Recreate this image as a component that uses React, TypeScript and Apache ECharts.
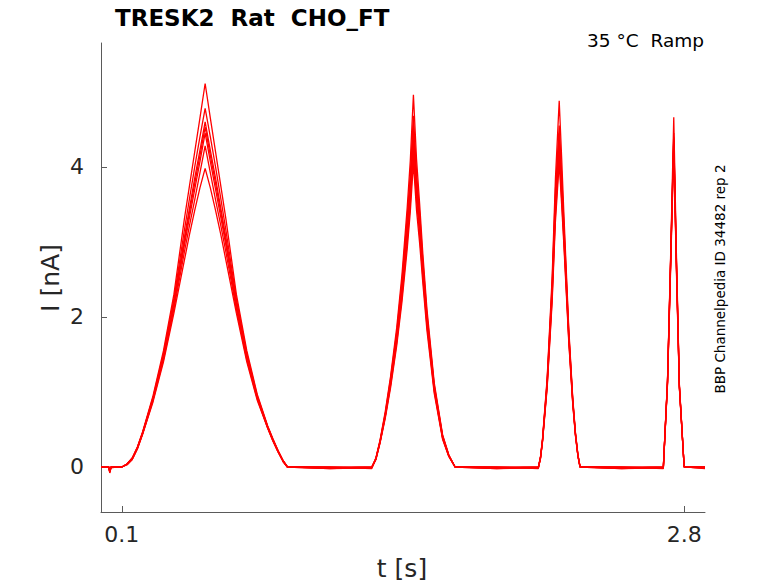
import React, { useEffect, useRef } from "react";
import * as echarts from "echarts";

// shared time axis (s)
const T = [
  0, 0.037, 0.042, 0.048, 0.1,
  0.125, 0.15, 0.175, 0.2, 0.25, 0.3, 0.35, 0.4, 0.425, 0.45, 0.475, 0.5,
  0.525, 0.55, 0.575, 0.6, 0.65, 0.7, 0.75, 0.8, 0.825, 0.85, 0.875, 0.895,
  1.1, 1.3,
  1.32, 1.34, 1.365, 1.39, 1.42, 1.445, 1.47, 1.485, 1.5,
  1.515, 1.53, 1.545, 1.565, 1.6, 1.64, 1.67, 1.7,
  1.9, 2.1,
  2.11, 2.12, 2.142, 2.166, 2.182, 2.2,
  2.212, 2.222, 2.246, 2.265, 2.278, 2.29, 2.3,
  2.5, 2.7,
  2.72, 2.736, 2.75,
  2.762, 2.777, 2.8,
  2.9,
];

// currents (nA), one array per sweep
const sweep1 = [
  0, 0, -0.08, -0.01, 0,
  0.04, 0.12, 0.27, 0.47, 0.95, 1.55, 2.3, 3.3, 3.75, 4.2, 4.65, 5.11,
  4.65, 4.2, 3.75, 3.3, 2.3, 1.55, 0.97, 0.55, 0.38, 0.22, 0.08, 0,
  -0.01, 0,
  0.12, 0.36, 0.74, 1.2, 1.86, 2.56, 3.45, 4.08, 4.96,
  4.1, 3.5, 2.85, 2.1, 1.12, 0.43, 0.16, 0,
  -0.01, 0,
  0.13, 0.38, 1.18, 2.52, 3.85, 4.88,
  4.1, 3.4, 1.84, 0.92, 0.46, 0.16, 0,
  -0.01, 0,
  1.16, 2.93, 4.66,
  2.93, 1.1, 0,
  0,
];
const sweep2 = [
  0, 0, -0.07, -0.01, 0,
  0.04, 0.12, 0.26, 0.46, 0.93, 1.51, 2.24, 3.15, 3.58, 4.0, 4.4, 4.78,
  4.4, 4.0, 3.58, 3.15, 2.24, 1.51, 0.95, 0.54, 0.37, 0.22, 0.08, 0,
  0, -0.01,
  0.12, 0.35, 0.72, 1.17, 1.8, 2.48, 3.33, 3.9, 4.68,
  3.92, 3.38, 2.76, 2.04, 1.09, 0.42, 0.16, 0,
  0, -0.01,
  0.13, 0.37, 1.15, 2.44, 3.7, 4.55,
  3.88, 3.28, 1.8, 0.9, 0.45, 0.16, 0,
  0, -0.01,
  1.15, 2.88, 4.45,
  2.85, 1.09, 0,
  -0.01,
];
const sweep3 = [
  0, 0, -0.07, 0, 0,
  0.04, 0.11, 0.26, 0.46, 0.92, 1.48, 2.2, 3.05, 3.45, 3.85, 4.22, 4.6,
  4.22, 3.85, 3.45, 3.05, 2.2, 1.48, 0.94, 0.54, 0.37, 0.21, 0.08, 0,
  -0.02, 0,
  0.11, 0.34, 0.7, 1.14, 1.76, 2.42, 3.24, 3.78, 4.55,
  3.82, 3.3, 2.7, 2.0, 1.07, 0.41, 0.15, 0,
  -0.02, 0,
  0.12, 0.36, 1.13, 2.39, 3.6, 4.45,
  3.8, 3.22, 1.77, 0.89, 0.44, 0.15, 0,
  -0.02, 0,
  1.14, 2.86, 4.4,
  2.83, 1.08, 0,
  -0.01,
];
const sweep4 = [
  0, 0, -0.06, 0, 0,
  0.04, 0.11, 0.26, 0.45, 0.91, 1.47, 2.17, 3.0, 3.4, 3.78, 4.15, 4.53,
  4.15, 3.78, 3.4, 3.0, 2.17, 1.47, 0.93, 0.53, 0.36, 0.21, 0.08, 0,
  -0.01, -0.01,
  0.11, 0.34, 0.69, 1.12, 1.73, 2.37, 3.16, 3.68, 4.45,
  3.73, 3.23, 2.65, 1.96, 1.05, 0.4, 0.15, 0,
  -0.01, -0.01,
  0.12, 0.36, 1.11, 2.35, 3.52, 4.35,
  3.72, 3.16, 1.75, 0.88, 0.44, 0.15, 0,
  -0.01, -0.01,
  1.14, 2.85, 4.38,
  2.8, 1.07, 0,
  0,
];
const sweep5 = [
  0, 0, -0.06, 0, 0,
  0.04, 0.11, 0.25, 0.45, 0.9, 1.45, 2.14, 2.95, 3.33, 3.7, 4.07, 4.45,
  4.07, 3.7, 3.33, 2.95, 2.14, 1.45, 0.92, 0.53, 0.36, 0.21, 0.07, 0,
  0, -0.02,
  0.11, 0.33, 0.68, 1.1, 1.7, 2.32, 3.08, 3.6, 4.35,
  3.65, 3.16, 2.6, 1.92, 1.03, 0.39, 0.15, 0,
  0, -0.02,
  0.12, 0.35, 1.09, 2.3, 3.44, 4.25,
  3.64, 3.1, 1.72, 0.87, 0.43, 0.15, 0,
  0, -0.02,
  1.13, 2.83, 4.35,
  2.78, 1.07, 0,
  -0.02,
];
const sweep6 = [
  0, 0, -0.05, 0, 0,
  0.03, 0.1, 0.25, 0.44, 0.89, 1.43, 2.1, 2.86, 3.22, 3.56, 3.92, 4.28,
  3.92, 3.56, 3.22, 2.86, 2.1, 1.43, 0.91, 0.52, 0.35, 0.2, 0.07, 0,
  -0.01, 0,
  0.1, 0.33, 0.67, 1.08, 1.66, 2.26, 2.99, 3.5, 4.2,
  3.55, 3.08, 2.54, 1.88, 1.01, 0.38, 0.14, 0,
  -0.01, 0,
  0.11, 0.35, 1.07, 2.25, 3.36, 4.15,
  3.56, 3.04, 1.69, 0.85, 0.42, 0.14, 0,
  -0.01, 0,
  1.12, 2.8, 4.3,
  2.75, 1.06, 0,
  0,
];
const sweep7 = [
  0, 0, -0.05, 0, 0,
  0.03, 0.1, 0.24, 0.44, 0.87, 1.4, 2.05, 2.75, 3.1, 3.42, 3.72, 3.98,
  3.72, 3.42, 3.1, 2.75, 2.05, 1.4, 0.89, 0.52, 0.35, 0.2, 0.07, 0,
  -0.02, -0.01,
  0.1, 0.32, 0.65, 1.05, 1.62, 2.2, 2.9, 3.4, 4.05,
  3.42, 2.98, 2.46, 1.82, 0.98, 0.37, 0.14, 0,
  -0.02, -0.01,
  0.11, 0.34, 1.05, 2.2, 3.28, 4.05,
  3.48, 2.98, 1.66, 0.84, 0.42, 0.14, 0,
  -0.02, -0.01,
  1.1, 2.75, 4.25,
  2.7, 1.05, 0,
  -0.01,
];

const sweeps = [sweep1, sweep2, sweep3, sweep4, sweep5, sweep6, sweep7];

const xTicks = [0.1, 2.8];
const yTicks = [0, 2, 4];

const titleText = "TRESK2  Rat  CHO_FT";
const conditionText = "35 °C  Ramp";
const sourceText = "BBP Channelpedia ID 34482 rep 2";
const xName = "t [s]";
const yName = "I [nA]";

const FONT = "DejaVu Sans";

export default function App() {
  const ref = useRef<HTMLDivElement>(null);

  useEffect(() => {
    document.body.style.margin = "0";
    const chart = echarts.init(ref.current!, null, { renderer: "svg" });
    const axisColor = "#5a5a5a";
    const labelColor = "#262626";
    chart.setOption({
      animation: false,
      backgroundColor: "#ffffff",
      grid: {
        left: 101,
        right: 73,
        top: 43,
        bottom: 71,
        containLabel: false,
        outerBoundsMode: "none",
      },
      xAxis: {
        type: "value",
        min: 0,
        max: 2.9,
        splitLine: { show: false },
        axisLine: { show: true, onZero: false, lineStyle: { color: axisColor, width: 1 } },
        axisTick: {
          show: true,
          inside: true,
          length: 6,
          customValues: xTicks,
          lineStyle: { color: axisColor },
        },
        axisLabel: {
          customValues: xTicks,
          fontFamily: FONT,
          fontSize: 22,
          color: labelColor,
          margin: 11,
          formatter: (v: number) => v.toFixed(1),
        },
      },
      yAxis: {
        type: "value",
        min: -0.6,
        max: 5.65,
        splitLine: { show: false },
        axisLine: { show: true, onZero: false, lineStyle: { color: axisColor, width: 1 } },
        axisTick: {
          show: true,
          inside: true,
          length: 6,
          customValues: yTicks,
          lineStyle: { color: axisColor },
        },
        axisLabel: {
          customValues: yTicks,
          fontFamily: FONT,
          fontSize: 22,
          color: labelColor,
          margin: 17,
        },
      },
      graphic: [
        {
          type: "text",
          x: 115,
          y: 18,
          style: {
            text: titleText,
            fontFamily: FONT,
            fontWeight: "bold",
            fontSize: 23,
            fill: "#000000",
            align: "left",
            verticalAlign: "middle",
          },
        },
        {
          type: "text",
          x: 704,
          y: 40,
          style: {
            text: conditionText,
            fontFamily: FONT,
            fontSize: 18.5,
            fill: "#000000",
            align: "right",
            verticalAlign: "middle",
          },
        },
        {
          type: "text",
          x: 720,
          y: 279,
          rotation: Math.PI / 2,
          style: {
            text: sourceText,
            fontFamily: FONT,
            fontSize: 13.5,
            fill: "#000000",
            align: "center",
            verticalAlign: "middle",
          },
        },
        {
          type: "text",
          x: 50,
          y: 278,
          rotation: Math.PI / 2,
          style: {
            text: yName,
            fontFamily: FONT,
            fontSize: 25,
            fill: labelColor,
            align: "center",
            verticalAlign: "middle",
          },
        },
        {
          type: "text",
          x: 402,
          y: 568,
          style: {
            text: xName,
            fontFamily: FONT,
            fontSize: 25,
            fill: labelColor,
            align: "center",
            verticalAlign: "middle",
          },
        },
      ],
      series: sweeps.map((s, k) => ({
        type: "line",
        name: "sweep" + (k + 1),
        data: T.map((t, i) => [t, s[i]]),
        showSymbol: false,
        symbol: "none",
        smooth: false,
        lineStyle: { color: "#ff0000", width: 1.3 },
        z: 2,
      })),
    });
    return () => chart.dispose();
  }, []);

  return (
    <div
      ref={ref}
      style={{ position: "fixed", left: 0, top: 0, width: 778, height: 583 }}
    />
  );
}
